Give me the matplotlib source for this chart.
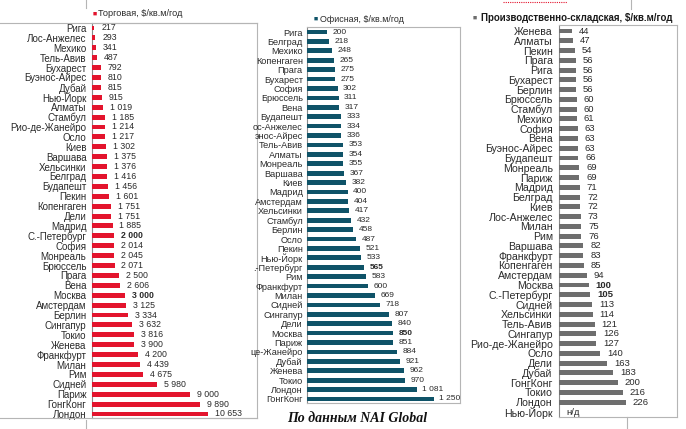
import matplotlib
matplotlib.use("Agg")
import matplotlib.pyplot as plt
from matplotlib.lines import Line2D

plt.rcParams['font.family'] = ['Liberation Sans', 'DejaVu Sans']

# Торговая недвижимость, $/кв.м/год
retail_cities = ['Рига', 'Лос-Анжелес', 'Мехико', 'Тель-Авив', 'Бухарест', 'Буэнос-Айрес',
                 'Дубай', 'Нью-Йорк', 'Алматы', 'Стамбул', 'Рио-де-Жанейро', 'Осло', 'Киев',
                 'Варшава', 'Хельсинки', 'Белград', 'Будапешт', 'Пекин', 'Копенгаген', 'Дели',
                 'Мадрид', 'С.-Петербург', 'София', 'Монреаль', 'Брюссель', 'Прага', 'Вена',
                 'Москва', 'Амстердам', 'Берлин', 'Сингапур', 'Токио', 'Женева', 'Франкфурт',
                 'Милан', 'Рим', 'Сидней', 'Париж', 'ГонгКонг', 'Лондон']
retail_values = [217, 293, 341, 487, 792, 810, 815, 915, 1019, 1185, 1214, 1217, 1302,
                 1375, 1376, 1416, 1456, 1601, 1751, 1751, 1885, 2000, 2014, 2045, 2071,
                 2500, 2606, 3000, 3125, 3334, 3632, 3816, 3900, 4200, 4439, 4675, 5980,
                 9000, 9890, 10653]

# Офисная недвижимость
office_cities = ['Рига', 'Белград', 'Мехико', 'Копенгаген', 'Прага', 'Бухарест', 'София',
                 'Брюссель', 'Вена', 'Будапешт', 'ос-Анжелес', 'энос-Айрес', 'Тель-Авив',
                 'Алматы', 'Монреаль', 'Варшава', 'Киев', 'Мадрид', 'Амстердам', 'Хельсинки',
                 'Стамбул', 'Берлин', 'Осло', 'Пекин', 'Нью-Йорк', '.-Петербург', 'Рим',
                 'Франкфурт', 'Милан', 'Сидней', 'Сингапур', 'Дели', 'Москва', 'Париж',
                 'це-Жанейро', 'Дубай', 'Женева', 'Токио', 'Лондон', 'ГонгКонг']
office_values = [200, 218, 248, 265, 275, 275, 302, 311, 317, 333, 334, 336, 353, 354, 355,
                 367, 382, 400, 404, 417, 432, 458, 487, 521, 533, 565, 583, 600, 669, 718,
                 807, 840, 850, 851, 884, 921, 962, 970, 1081, 1250]

# Производственно-складская
industrial_cities = ['Женева', 'Алматы', 'Пекин', 'Прага', 'Рига', 'Бухарест', 'Берлин',
                     'Брюссель', 'Стамбул', 'Мехико', 'София', 'Вена', 'Буэнос-Айрес',
                     'Будапешт', 'Монреаль', 'Париж', 'Мадрид', 'Белград', 'Киев',
                     'Лос-Анжелес', 'Милан', 'Рим', 'Варшава', 'Франкфурт', 'Копенгаген',
                     'Амстердам', 'Москва', 'С.-Петербург', 'Сидней', 'Хельсинки',
                     'Тель-Авив', 'Сингапур', 'Рио-де-Жанейро', 'Осло', 'Дели', 'Дубай',
                     'ГонгКонг', 'Токио', 'Лондон', 'Нью-Йорк']
industrial_values = [44, 47, 54, 56, 56, 56, 56, 60, 60, 61, 63, 63, 63, 66, 69, 69, 71, 72,
                     72, 73, 75, 76, 82, 83, 85, 94, 100, 105, 113, 114, 121, 126, 127, 140,
                     163, 183, 200, 216, 226, None]

W, H = 686, 429
fig = plt.figure(figsize=(W / 100, H / 100), dpi=100)
fig.patch.set_facecolor('white')

TXT = '#2a2a2a'
FRAME = '#b5b5b5'


def box(x0, y0, x1, y1):
    return [x0 / W, 1 - y1 / H, (x1 - x0) / W, (y1 - y0) / H]


def fmt(v):
    return f"{v:,}".replace(",", " ")


def panel(px, first, last, cities, values, color, xmax, fs, vfs, bold, gap, pad):
    x0, y0, x1, y1 = px
    ax = fig.add_axes(box(*px))
    n = len(cities)
    step = (last - first) / (n - 1)
    vals = [0 if v is None else v for v in values]
    ax.barh(range(n), vals, height=0.5, color=color, zorder=3)
    ax.set_xlim(0, xmax)
    ax.set_ylim(n - 1 + (y1 - last) / step, -(first - y0) / step)
    ax.set_yticks(range(n))
    ax.set_yticklabels(cities, fontsize=fs, color=TXT)
    ax.tick_params(axis='y', length=0, pad=pad)
    ax.set_xticks([])
    for s in ax.spines.values():
        s.set_color(FRAME)
        s.set_linewidth(0.8)
    ax.spines['left'].set_color('#8a8a8a')
    for i, v in enumerate(values):
        label = 'н/д' if v is None else fmt(v)
        ax.annotate(label, (vals[i], i), xytext=(gap, 0), textcoords='offset points',
                    va='center', ha='left', fontsize=vfs, color=TXT,
                    fontweight='bold' if cities[i] in bold else 'normal')
    return ax


panel((92, 23, 257, 418), 28, 414, retail_cities, retail_values, '#e3142d',
      15150, 7.0, 6.3, {'С.-Петербург', 'Москва'}, 5, 4)
panel((307, 27, 460, 403), 32, 399, office_cities, office_values, '#0f5368',
      1510, 6.6, 6.0, {'.-Петербург', 'Москва'}, 4, 3)
panel((559, 25, 677, 417), 31, 412, industrial_cities, industrial_values, '#6e6e6e',
      400, 7.6, 6.8, {'С.-Петербург', 'Москва'}, 5, 4.5)

# заголовки-легенды
fig.text(93 / W, 1 - 14 / H, '■', color='#e3142d', fontsize=5, va='center')
fig.text(98 / W, 1 - 14 / H, 'Торговая, $/кв.м/год', color=TXT, fontsize=6.6, va='center')
fig.text(314 / W, 1 - 19 / H, '■', color='#0f5368', fontsize=5, va='center')
fig.text(320 / W, 1 - 19 / H, 'Офисная, $/кв.м/год', color=TXT, fontsize=6.4, va='center')
fig.text(473 / W, 1 - 18 / H, '■', color='#6e6e6e', fontsize=5, va='center')
fig.text(481 / W, 1 - 18 / H, 'Производственно-складская, $/кв.м/год', color='#1a1a1a',
         fontsize=7.0, fontweight='bold', va='center')

# продолжение рамок и линии исходного документа
for xs, ys in [((0, 257), (23, 23)), ((0, 257), (418, 418)),
               ((86, 86), (0, 8)), ((86, 86), (420, 429)),
               ((631, 631), (0, 9)), ((627, 627), (417, 429))]:
    fig.add_artist(Line2D([x / W for x in xs], [1 - y / H for y in ys],
                          color=FRAME, lw=0.8))
fig.add_artist(Line2D([503 / W, 567 / W], [1 - 2 / H, 1 - 2 / H], color='#e3142d',
                      lw=0.8, ls=(0, (1, 1))))

fig.text(357 / W, 1 - 419 / H, 'По данным NAI Global', ha='center', va='center',
         family=['Liberation Serif', 'DejaVu Serif'], fontsize=10, fontweight='bold',
         fontstyle='italic', color='#111111')

fig.savefig('out.png', dpi=100, facecolor='white')
